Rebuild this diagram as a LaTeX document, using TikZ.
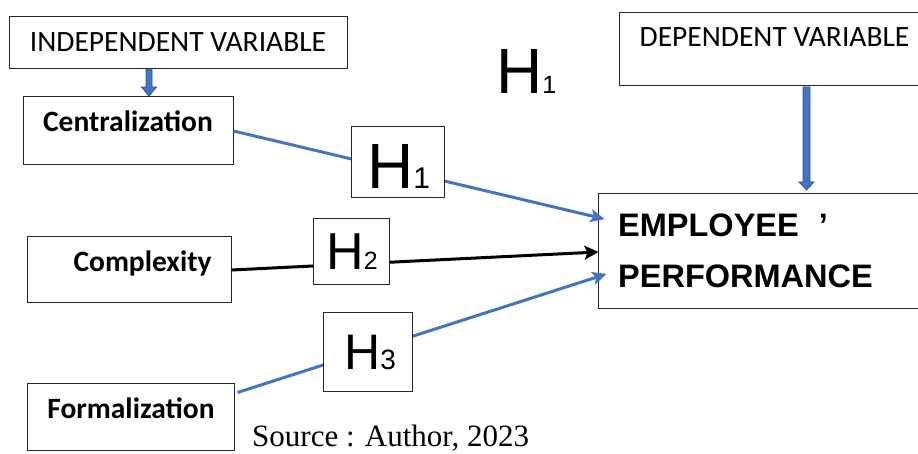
\documentclass[tikz,border=0pt]{standalone}
\usepackage{fontspec}
\setmainfont{Carlito}
\newfontfamily\arialf{Liberation Sans}
\newfontfamily\timesf{Liberation Serif}
\usetikzlibrary{arrows.meta,calc}
\definecolor{lblue}{HTML}{4472C4}
\definecolor{dblue}{HTML}{2F528F}
\begin{document}
\begin{tikzpicture}[x=1pt,y=1pt,
  box/.style={draw=black!85,line width=1pt,inner sep=0pt,fill=white},
  lab/.style={anchor=base,inner sep=0pt},
  labw/.style={anchor=base west,inner sep=0pt},
  hbox/.style={draw=black!85,line width=1pt,fill=white,inner sep=0pt},
  bluelink/.style={draw=lblue,line width=3pt,-{Stealth[length=14pt,width=13pt,inset=3pt]}},
  blacklink/.style={draw=black,line width=3pt,-{Stealth[length=14pt,width=14pt,inset=3pt]}},
  barrow/.style={fill=lblue,draw=dblue,line width=0.8pt}]
\useasboundingbox (0,0) rectangle (918,454);

% boxes
\node[box,minimum width=338pt,minimum height=52pt] (indep) at (178,411) {};
\node[lab] (indepT) at (178,402) {\fontsize{29.5}{29.5}\selectfont INDEPENDENT VARIABLE};

\node[box,minimum width=210pt,minimum height=68pt] (cent) at (128,323) {};
\node[lab] (centT) at (128,322) {\fontsize{29.5}{29.5}\selectfont\bfseries Centralization};

\node[box,minimum width=204pt,minimum height=66pt] (comp) at (129,184) {};
\node[lab] (compT) at (142.5,182) {\fontsize{29.5}{29.5}\selectfont\bfseries Complexity};

\node[box,minimum width=207pt,minimum height=67pt] (form) at (130.5,36.5) {};
\node[lab] (formT) at (131,35) {\fontsize{29.5}{29.5}\selectfont\bfseries Formalization};

\node[box,minimum width=311pt,minimum height=73pt] (dep) at (774.5,404.5) {};
\node[lab] (depT) at (774.5,407) {\fontsize{29.5}{29.5}\selectfont DEPENDENT VARIABLE};

\node[box,minimum width=332pt,minimum height=115pt] (emp) at (764,202.5) {};
\node[labw] (empT1) at (618,217) {\arialf\bfseries\fontsize{32.5}{32.5}\selectfont EMPLOYEE\hspace{20pt}’};
\node[labw] (empT2) at (618,166) {\arialf\bfseries\fontsize{32.5}{32.5}\selectfont PERFORMANCE};

% block arrows
\coordinate (ia) at (149,385);
\coordinate (ib) at (149,358);
\filldraw[barrow] ($(ia)+(-3,0)$) |- ($(ib)+(-7.5,9)$) -- (ib) -- ($(ib)+(7.5,9)$) -| ($(ia)+(3,0)$) -- cycle;
\coordinate (da) at (806.5,367);
\coordinate (db) at (806.5,264);
\filldraw[barrow] ($(da)+(-3.5,0)$) |- ($(db)+(-7.5,8)$) -- (db) -- ($(db)+(7.5,8)$) -| ($(da)+(3.5,0)$) -- cycle;

% connectors
\draw[bluelink] (cent.east) -- ([xshift=7pt,yshift=32.5pt]emp.west);
\draw[blacklink] (comp.east) -- ([xshift=1pt,yshift=-0.5pt]emp.west);
\draw[bluelink] ([xshift=3pt,yshift=-9pt]form.north east) -- ([xshift=9pt,yshift=-22.5pt]emp.west);

% hypothesis boxes
\node[hbox,minimum width=93pt,minimum height=71pt] (h1) at (397.5,291.5) {};
\node[labw] (h1T) at (367,265) {\arialf\fontsize{64}{64}\selectfont H\fontsize{30}{30}\selectfont 1};
\node[hbox,minimum width=76pt,minimum height=66pt] (h2) at (351,202) {};
\node[labw] (h2T) at (326,184) {\arialf\fontsize{52}{52}\selectfont H\fontsize{25}{25}\selectfont 2};
\node[hbox,minimum width=89pt,minimum height=79pt] (h3) at (367.5,101.5) {};
\node[labw] (h3T) at (344,84) {\arialf\fontsize{50}{50}\selectfont H\fontsize{28}{28}\selectfont 3};

\node[labw] (hfree) at (496,360) {\arialf\fontsize{64}{64}\selectfont H\fontsize{25}{25}\selectfont 1};

\node[labw] (src) at (252,7) {\timesf\fontsize{31}{31}\selectfont Source : Author, 2023};
\end{tikzpicture}
\end{document}
